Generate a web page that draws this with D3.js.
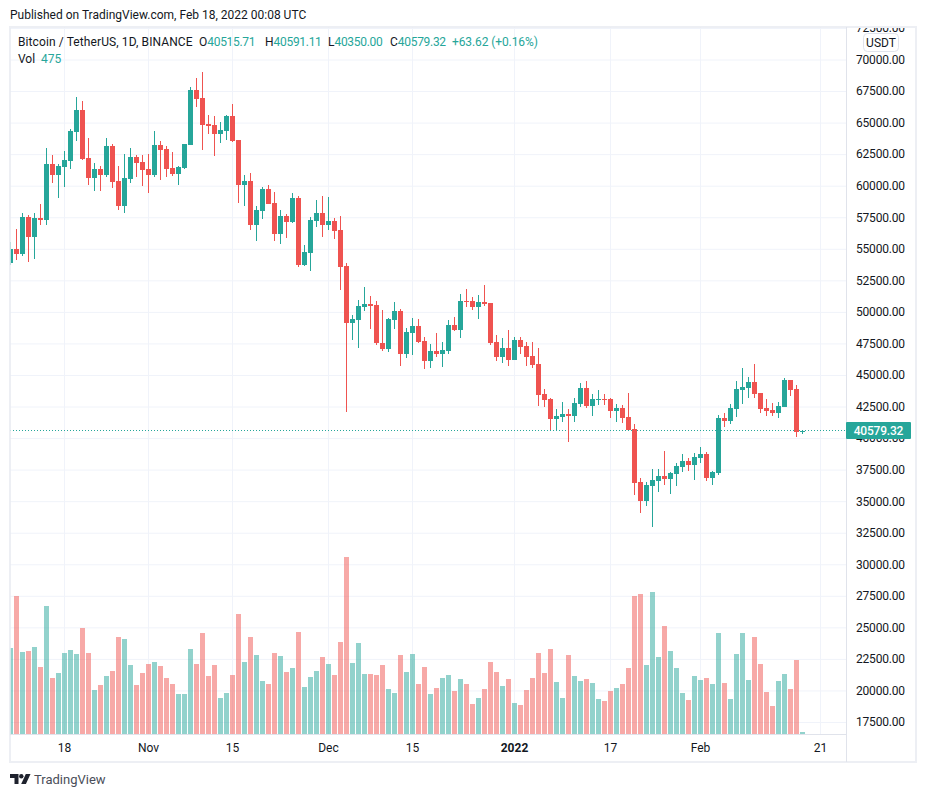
<!DOCTYPE html>
<html lang="en">
<head>
    <meta charset="UTF-8">
    <title>BTCUSDT 1D</title>
    <script src="https://d3js.org/d3.v7.min.js"></script>
    <style>
        html, body { margin: 0; padding: 0; background: #fff; }
        svg { display: block; }
        text { font-family: Roboto, "Noto Sans", sans-serif; }
    </style>
</head>
<body>
    <div id="chart"></div>
    <script>
        // daily candles, Oct 9 2021 .. Feb 18 2022
        const opens = [53910,55020,54620,57560,55970,57480,57320,61760,60880,61520,61990,64290,66040,62230,60650,61360,60880,63180,60410,58430,60570,62310,61910,61360,60880,63260,62940,61440,60960,61440,63260,67620,66990,64930,64850,64130,64370,65560,63660,60090,60410,56920,58030,59780,58670,56210,57640,57160,59060,53750,54700,57240,57870,56920,57240,56530,53670,49160,49390,50420,50660,50580,47570,47100,49390,50110,46700,48360,48920,47730,46150,46940,46700,46940,49000,48600,50900,50900,50420,50820,50740,47650,46460,47180,46220,47810,47330,46540,45910,43530,43130,41550,41710,41950,41790,42740,44010,42580,43060,43130,43130,42180,42420,41710,40760,36560,35050,36240,36640,37030,36800,37190,37750,38220,37900,38460,38780,36870,37270,41630,41390,42340,43850,44010,44480,43610,42420,42260,42030,42500,44640,43930,40515.71];
        const highs = [55550,56610,57870,57720,57870,58590,63020,62470,61760,62790,64530,67070,66750,63820,61840,61600,63820,63340,61600,62550,63020,62470,62470,62550,64370,63580,63180,62710,61600,63350,67860,68570,69050,65640,65560,65080,65640,66510,63660,60880,61040,58430,59930,60090,59540,58110,57790,59460,59220,55340,57560,58900,59220,59140,57480,57640,53910,49790,50980,52010,51300,50900,50190,49550,50820,50270,48760,49550,49470,48050,47490,48360,47650,49390,49630,51450,51850,51220,51380,52170,50740,48210,47970,48600,48050,48050,47650,47650,47180,43930,43210,42340,42900,42340,43210,44400,44560,43530,43850,43530,43210,42740,42660,43610,41150,36870,36560,37590,37590,39010,37350,38060,38780,38460,38860,39330,38940,37430,41870,42030,42740,44560,45590,44880,45910,43610,43130,42820,42900,44800,44650,44240,40591.11];
        const lows = [53750,54150,54470,53990,54230,56920,56920,60250,59060,59930,61360,63580,62070,60090,59620,59620,60730,59850,58110,57870,60250,60730,60010,59460,60730,60490,60730,60810,60090,61360,63240,66270,62870,64130,62390,63420,63660,63500,58670,58430,56530,55650,57400,58580,55650,55420,55890,57080,53590,53670,53280,56760,55970,56530,55810,51770,42100,47810,47180,50110,48680,47410,46940,46860,48680,45750,46380,46620,47570,45510,45590,46460,45670,46700,48520,47970,50420,50190,49470,50500,47410,46150,45990,45750,46220,46700,45750,45590,42580,42500,40680,40680,41310,39730,41310,42500,42420,41790,42660,42660,41630,41310,41230,40670,35530,34100,34660,32990,35770,36320,35610,36240,37350,37430,36720,38060,36640,36320,37110,40920,41150,41710,42740,43210,43210,42030,41790,41790,41630,42490,43370,40120,40350];
        const closes = [55020,54620,57560,55970,57480,57320,61760,60880,61600,62070,64370,66040,62150,60650,61360,60880,63180,60330,58430,60650,62310,61840,61280,60880,63260,62870,61360,60960,61520,63340,67620,66910,64850,64770,64130,64450,65560,63580,60090,60410,56920,58110,59780,58590,56210,57640,57160,59060,53750,54780,57320,57870,56920,57240,56450,53590,49160,49470,50500,50660,50500,47570,47100,49470,50110,46700,48440,48920,47650,46150,46940,46700,47020,49000,48600,50900,50820,50420,50820,50660,47570,46460,47180,46220,47810,47250,46460,45830,43450,43060,41550,41790,41950,41790,42820,44010,42580,43130,43130,43060,42180,42420,41630,40680,36480,35050,36320,36720,37030,36800,37270,37830,38220,37900,38540,38780,36870,37350,41630,41390,42420,43930,44090,44480,43530,42340,42180,42030,42580,44640,43850,40520,40579.32];
        const volumes = [51600,82800,49200,49800,52200,40200,76800,33600,36600,48600,50400,48000,63600,48600,26400,29400,34800,37800,58200,57000,41400,29400,36600,42000,43200,40800,33600,30000,24000,24000,51000,42000,60600,34800,41400,21600,24600,35400,72000,43200,58200,47400,31800,30000,48600,46800,37200,39600,61200,28200,34200,37800,46200,42000,35400,55200,106200,42600,54600,36000,36000,35400,41400,27000,24600,47400,37200,48000,30000,40200,24000,27600,33600,35400,25800,33000,30000,18000,21600,27000,43200,37200,28800,33000,18600,17400,26400,33600,48600,36600,51000,31200,21600,47400,34800,31800,33000,30600,21000,19800,25800,27600,30000,39600,82800,84000,41400,85200,46200,64800,49800,39600,24600,20400,34800,32400,33600,30000,60600,30600,21000,48000,60600,32400,58200,42000,25200,16800,31800,36000,27000,44400,475];

        const priceTicks = d3.range(17500, 72501, 2500);
        const dateTicks = [9, 23, 37, 53, 67, 84, 100, 115, 135];   // bar index of each label
        const dateLabels = ["18", "Nov", "15", "Dec", "15", "2022", "17", "Feb", "21"];
        const legendLabels = ["O", "H", "L", "C"];
        const legendValues = ["40515.71", "40591.11", "40350.00", "40579.32"];
        const lastPrice = 40579.32;

        const green = "#26a69a", red = "#ef5350", grid = "#f0f3fa", ink = "#131722";
        const width = 926, height = 797;
        const pane = {left: 10, right: 846, top: 27, bottom: 734};

        const svg = d3.select("#chart").append("svg")
            .attr("width", width).attr("height", height);

        const x = d3.scaleLinear().domain([0, 135]).range([10.5, 820.5]);
        const y = d3.scaleLinear().domain([17500, 70000]).range([722.5, 60]);
        const v = d3.scaleLinear().domain([0, d3.max(volumes)]).range([pane.bottom, 557]);

        const defs = svg.append("defs");
        defs.append("clipPath").attr("id", "paneClip").append("rect")
            .attr("x", pane.left).attr("y", pane.top)
            .attr("width", pane.right - pane.left).attr("height", pane.bottom - pane.top);
        defs.append("clipPath").attr("id", "axisClip").append("rect")
            .attr("x", pane.right).attr("y", pane.top + 1)
            .attr("width", 70).attr("height", pane.bottom - pane.top);

        const chart = svg.append("g").attr("clip-path", "url(#paneClip)");

        // grid lines
        chart.append("g")
            .attr("transform", `translate(${pane.left},0)`)
            .call(d3.axisRight(y).tickValues(priceTicks).tickSize(pane.right - pane.left).tickFormat("").offset(0))
            .call(g => g.select(".domain").remove())
            .call(g => g.selectAll("line").attr("stroke", grid));
        chart.append("g")
            .attr("transform", `translate(0,${pane.top})`)
            .call(d3.axisBottom(x).tickValues(dateTicks).tickSize(pane.bottom - pane.top).tickFormat("").offset(0))
            .call(g => g.select(".domain").remove())
            .call(g => g.selectAll("line").attr("stroke", grid));

        const bars = d3.range(opens.length);
        const up = i => closes[i] >= opens[i];
        const colour = i => up(i) ? green : red;

        // volume
        chart.append("g").selectAll("rect")
            .data(bars)
            .join("rect")
            .attr("x", i => x(i) - 2.5)
            .attr("y", i => Math.min(Math.round(v(volumes[i])), pane.bottom - 2))
            .attr("width", 5)
            .attr("height", i => Math.max(pane.bottom - Math.round(v(volumes[i])), 2))
            .attr("fill", colour)
            .attr("fill-opacity", 0.5);

        // last price line
        chart.append("line")
            .attr("x1", pane.left).attr("x2", pane.right)
            .attr("y1", Math.floor(y(lastPrice)) - 0.5).attr("y2", Math.floor(y(lastPrice)) - 0.5)
            .attr("stroke", green).attr("stroke-dasharray", "1 2");

        // wicks
        chart.append("g").selectAll("rect")
            .data(bars)
            .join("rect")
            .attr("x", i => x(i) - 0.5)
            .attr("y", i => Math.round(y(highs[i])))
            .attr("width", 1)
            .attr("height", i => Math.round(y(lows[i])) - Math.round(y(highs[i])))
            .attr("fill", colour);

        // bodies
        chart.append("g").selectAll("rect")
            .data(bars)
            .join("rect")
            .attr("x", i => x(i) - 2.5)
            .attr("y", i => Math.round(y(Math.max(opens[i], closes[i]))))
            .attr("width", 5)
            .attr("height", i => Math.max(1, Math.round(y(Math.min(opens[i], closes[i]))) - Math.round(y(Math.max(opens[i], closes[i])))))
            .attr("fill", colour);

        // price axis
        svg.append("g").attr("clip-path", "url(#axisClip)").append("g")
            .attr("transform", `translate(${pane.right},0)`)
            .call(d3.axisRight(y).tickValues(priceTicks).tickFormat(d3.format(".2f")).tickSize(0).tickPadding(10).offset(0))
            .call(g => g.select(".domain").remove())
            .call(g => g.selectAll("text")
                .attr("font-size", 12).attr("font-family", "Roboto").attr("fill", ink)
                .attr("letter-spacing", -0.2));

        // date axis
        svg.append("g")
            .attr("transform", `translate(0,${pane.bottom})`)
            .call(d3.axisBottom(x).tickValues(dateTicks).tickFormat((d, i) => dateLabels[i]).tickSize(0).tickPadding(9).offset(0))
            .call(g => g.select(".domain").remove())
            .call(g => g.selectAll("text")
                .attr("font-size", 12).attr("font-family", "Roboto").attr("fill", ink)
                .attr("font-weight", d => d === 84 ? 700 : 400));

        // frame and separators
        const frame = "#e9ebf1";
        svg.append("rect")
            .attr("x", 10).attr("y", 27).attr("width", 906).attr("height", 735)
            .attr("fill", "none").attr("stroke", frame).attr("stroke-width", 2).attr("stroke-opacity", 0.8);
        svg.append("line")
            .attr("x1", 846.5).attr("x2", 846.5).attr("y1", 27).attr("y2", 762)
            .attr("stroke", "#e0e3eb");
        svg.append("line")
            .attr("x1", 10).attr("x2", 847).attr("y1", 734.5).attr("y2", 734.5)
            .attr("stroke", "#e0e3eb");

        // currency button
        svg.append("rect")
            .attr("x", 863.5).attr("y", 33.5).attr("width", 35).attr("height", 18).attr("rx", 4)
            .attr("fill", "#fff").attr("stroke", "#e0e3eb");
        svg.append("text")
            .attr("x", 881).attr("y", 47).attr("text-anchor", "middle")
            .attr("font-size", 12).attr("fill", ink).text("USDT");

        // last price tag
        svg.append("rect")
            .attr("x", 846).attr("y", 422).attr("width", 65).attr("height", 17).attr("rx", 1)
            .attr("fill", green);
        svg.append("text")
            .attr("x", 878.5).attr("y", 435).attr("text-anchor", "middle")
            .attr("font-size", 12).attr("font-weight", 500).attr("letter-spacing", -0.2).attr("fill", "#fff")
            .text(d3.format(".2f")(lastPrice));

        // header
        svg.append("text")
            .attr("x", 10).attr("y", 19).attr("font-size", 12).attr("fill", ink)
            .text("Published on TradingView.com, Feb 18, 2022 00:08 UTC");
        svg.append("text")
            .attr("x", 18).attr("y", 46).attr("font-size", 12).attr("letter-spacing", 0.1).attr("fill", ink)
            .text("Bitcoin / TetherUS, 1D, BINANCE");

        const legendX = [199, 265, 328, 390];
        legendLabels.forEach((d, i) => {
            const t = svg.append("text")
                .attr("x", legendX[i]).attr("y", 46).attr("font-size", 12).attr("fill", ink).text(d);
            t.append("tspan").attr("fill", green).attr("letter-spacing", -0.3).text(legendValues[i]);
        });
        svg.append("text")
            .attr("x", 452).attr("y", 46).attr("font-size", 12).attr("letter-spacing", -0.1).attr("fill", green)
            .text("+63.62 (+0.16%)");
        svg.append("text")
            .attr("x", 18).attr("y", 63).attr("font-size", 12).attr("fill", ink).text("Vol");
        svg.append("text")
            .attr("x", 41).attr("y", 63).attr("font-size", 12).attr("fill", green).text("475");

        // footer logo
        const logo = svg.append("g").attr("fill", "#1e222d");
        logo.append("path").attr("d", "M10 774h8.5v10h-4v-6h-4.5z");
        logo.append("circle").attr("cx", 21.3).attr("cy", 776.2).attr("r", 2.2);
        logo.append("path").attr("d", "M25.8 774h4.7l-4.6 10h-4.7z");
        svg.append("text")
            .attr("x", 34).attr("y", 784).attr("font-size", 13).attr("fill", "#4a4e59").text("TradingView");
    </script>
</body>
</html>
